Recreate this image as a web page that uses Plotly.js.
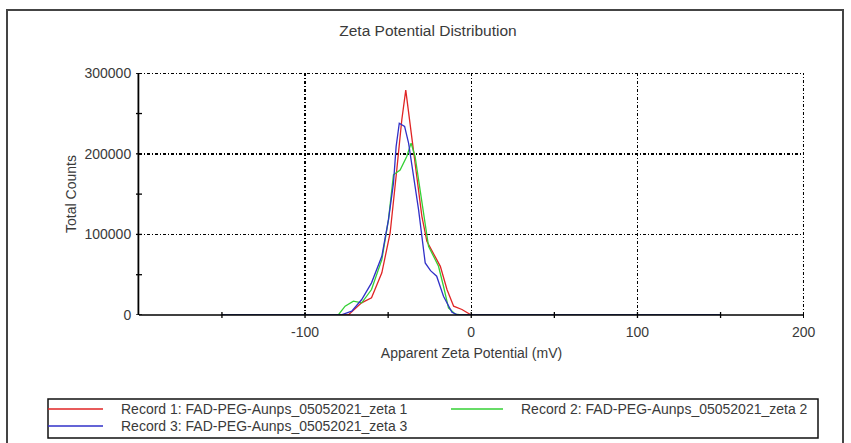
<!DOCTYPE html>
<html><head><meta charset="utf-8">
<script src="https://cdn.plot.ly/plotly-3.0.1.min.js"></script>
<style>html,body{margin:0;padding:0;background:#fff}#chart{width:851px;height:443px}</style>
</head><body><div id="chart"></div>
<script>
// ---- data ----
const seriesNames = [
  "Record 1: FAD-PEG-Aunps_05052021_zeta 1",
  "Record 2: FAD-PEG-Aunps_05052021_zeta 2",
  "Record 3: FAD-PEG-Aunps_05052021_zeta 3"
];
const rec1X = [-150, -74, -66, -60, -53.8, -48.8, -44.8, -41.8, -39.4, -36.7, -33.3, -29.7, -26.7, -21.6, -18.6, -14.6, -10.6, -5.6, 0, 150];
const rec1Y = [0, 0, 15100, 21300, 52300, 101800, 180200, 242000, 279000, 233900, 180200, 122400, 91400, 72800, 60400, 31600, 10900, 6800, 0, 0];
const rec2X = [-150, -80, -75.9, -70.9, -65.9, -60, -53.8, -49.8, -46.8, -42.8, -38.8, -36.2, -33.8, -31.7, -28.7, -25.7, -22.7, -19.7, -16.7, -13.7, -9.6, -5.6, 150];
const rec2Y = [0, 0, 10900, 17100, 15100, 31600, 68700, 118300, 174000, 180000, 196700, 213300, 196700, 167800, 130700, 85200, 72800, 60400, 35700, 8900, 1000, 0, 0];
const rec3X = [-150, -78.5, -71.9, -65.9, -60, -53.8, -49.8, -46.8, -45.2, -43.3, -40.1, -37.7, -34.7, -31.7, -27.7, -24.5, -20.8, -16.7, -11.6, -8, 150];
const rec3Y = [0, 0, 4700, 19200, 39900, 72800, 118300, 163700, 209000, 238000, 234000, 213300, 171900, 130700, 64600, 55000, 48100, 23300, 3300, 0, 0];
const xRange = [-199.9, 200.2];
const yRange = [0, 300300];
const xMajorTicks = [-100, 0, 100, 200];
const xAllTicks = [-150, -100, -50, 0, 50, 100, 150, 200];
const yMajorTicks = [0, 100000, 200000, 300000];
const yAllTicks = [0, 50000, 100000, 150000, 200000, 250000, 300000];
const titleText = "Zeta Potential Distribution";
const xTitle = "Apparent Zeta Potential (mV)";
const yTitle = "Total Counts";

// ---- styling ----
const colors = ["#e02424", "#34d034", "#3030c8"];
const FONT = "Liberation Sans, Arial, sans-serif";
const TXT = "#3a3a3a";
const W = 851, H = 443, ML = 139, MR = 47, MT = 73, MB = 128;
const PW = W - ML - MR, PH = H - MT - MB;
const px = v => (v - ML) / PW;
const py = v => (H - MB - v) / PH;

const xs = [rec1X, rec2X, rec3X], ys = [rec1Y, rec2Y, rec3Y];
const traces = xs.map((x, i) => ({
  type: "scatter", mode: "lines", x: x, y: ys[i], name: seriesNames[i],
  line: {color: colors[i], width: 1.3}, showlegend: false, hoverinfo: "skip"
}));

const gridDash = "3px,2px,1px,2px";
const shapes = [
  // outer frame
  {type: "rect", xref: "paper", yref: "paper", x0: px(7), x1: px(843), y0: py(460), y1: py(10),
   line: {color: "#444", width: 2}, fillcolor: "rgba(0,0,0,0)"},
  // legend box
  {type: "rect", xref: "paper", yref: "paper", x0: px(48), x1: px(818), y0: py(438), y1: py(399),
   line: {color: "#111", width: 1.5}, fillcolor: "rgba(0,0,0,0)"},
  // axis lines
  {type: "line", xref: "paper", yref: "paper", x0: -0.6 / PW, x1: -0.6 / PW, y0: 0, y1: 1, line: {color: "#000", width: 1.8}},
  {type: "line", xref: "paper", yref: "paper", x0: 0, x1: 1, y0: 0, y1: 0, line: {color: "#000", width: 1.5}},
  // edge grid lines (top at 300000, right at 200)
  {type: "line", xref: "paper", yref: "y", x0: 0, x1: 1, y0: yMajorTicks[yMajorTicks.length - 1], y1: yMajorTicks[yMajorTicks.length - 1],
   line: {color: "#000", width: 1.4, dash: gridDash}, layer: "between"},
  {type: "line", xref: "x", yref: "paper", x0: xMajorTicks[xMajorTicks.length - 1], x1: xMajorTicks[xMajorTicks.length - 1], y0: 0, y1: 1,
   line: {color: "#000", width: 1.4, dash: gridDash}, layer: "between"}
];
// tick marks crossing the axes
xAllTicks.forEach(v => shapes.push({type: "line", xref: "x", yref: "paper", x0: v, x1: v, y0: -3 / PH, y1: 3 / PH,
  line: {color: "#000", width: 1.3}}));
yAllTicks.forEach(v => shapes.push({type: "line", xref: "paper", yref: "y", x0: -3 / PW, x1: 3 / PW, y0: v, y1: v,
  line: {color: "#000", width: 1.3}}));

const legPos = [[48, 103, 409], [451, 503, 409], [48, 103, 426]];
const legText = [119, 519, 119];
const annotations = [];
legPos.forEach((p, i) => {
  shapes.push({type: "line", xref: "paper", yref: "paper", x0: px(p[0]), x1: px(p[1]), y0: py(p[2]), y1: py(p[2]),
    line: {color: colors[i], width: 1.5}});
  annotations.push({xref: "paper", yref: "paper", x: px(legText[i]), y: py(p[2]), xanchor: "left", yanchor: "middle",
    text: seriesNames[i], showarrow: false, font: {family: FONT, size: 14, color: TXT}});
});

const axisCommon = {
  showgrid: true, gridcolor: "#000", gridwidth: 1.4, griddash: gridDash,
  showline: false, zeroline: false,
  ticks: "outside", ticklen: 4, tickwidth: 1, tickcolor: "rgba(0,0,0,0)",
  tickfont: {family: FONT, size: 14, color: TXT},
  automargin: false, fixedrange: true
};
const layout = {
  width: W, height: H,
  margin: {l: ML, r: MR, t: MT, b: MB, pad: 0},
  paper_bgcolor: "#fff", plot_bgcolor: "#fff",
  font: {family: FONT, size: 14, color: TXT},
  title: {text: titleText, x: 428 / W, xref: "container", y: 1 - 31 / H, yref: "container",
          xanchor: "center", yanchor: "middle", font: {family: FONT, size: 15.5, color: TXT}},
  xaxis: Object.assign({}, axisCommon, {
    range: xRange, tickmode: "array", tickvals: xMajorTicks, ticktext: xMajorTicks.map(String),
    title: {text: xTitle, standoff: 9, font: {family: FONT, size: 14, color: TXT}}
  }),
  yaxis: Object.assign({}, axisCommon, {
    range: yRange, tickmode: "array", tickvals: yMajorTicks, ticktext: yMajorTicks.map(String),
    title: {text: yTitle, standoff: 4, font: {family: FONT, size: 14, color: TXT}}
  }),
  shapes: shapes,
  annotations: annotations,
  showlegend: false
};
Plotly.newPlot("chart", traces, layout, {displayModeBar: false, staticPlot: true});
</script>
</body></html>
